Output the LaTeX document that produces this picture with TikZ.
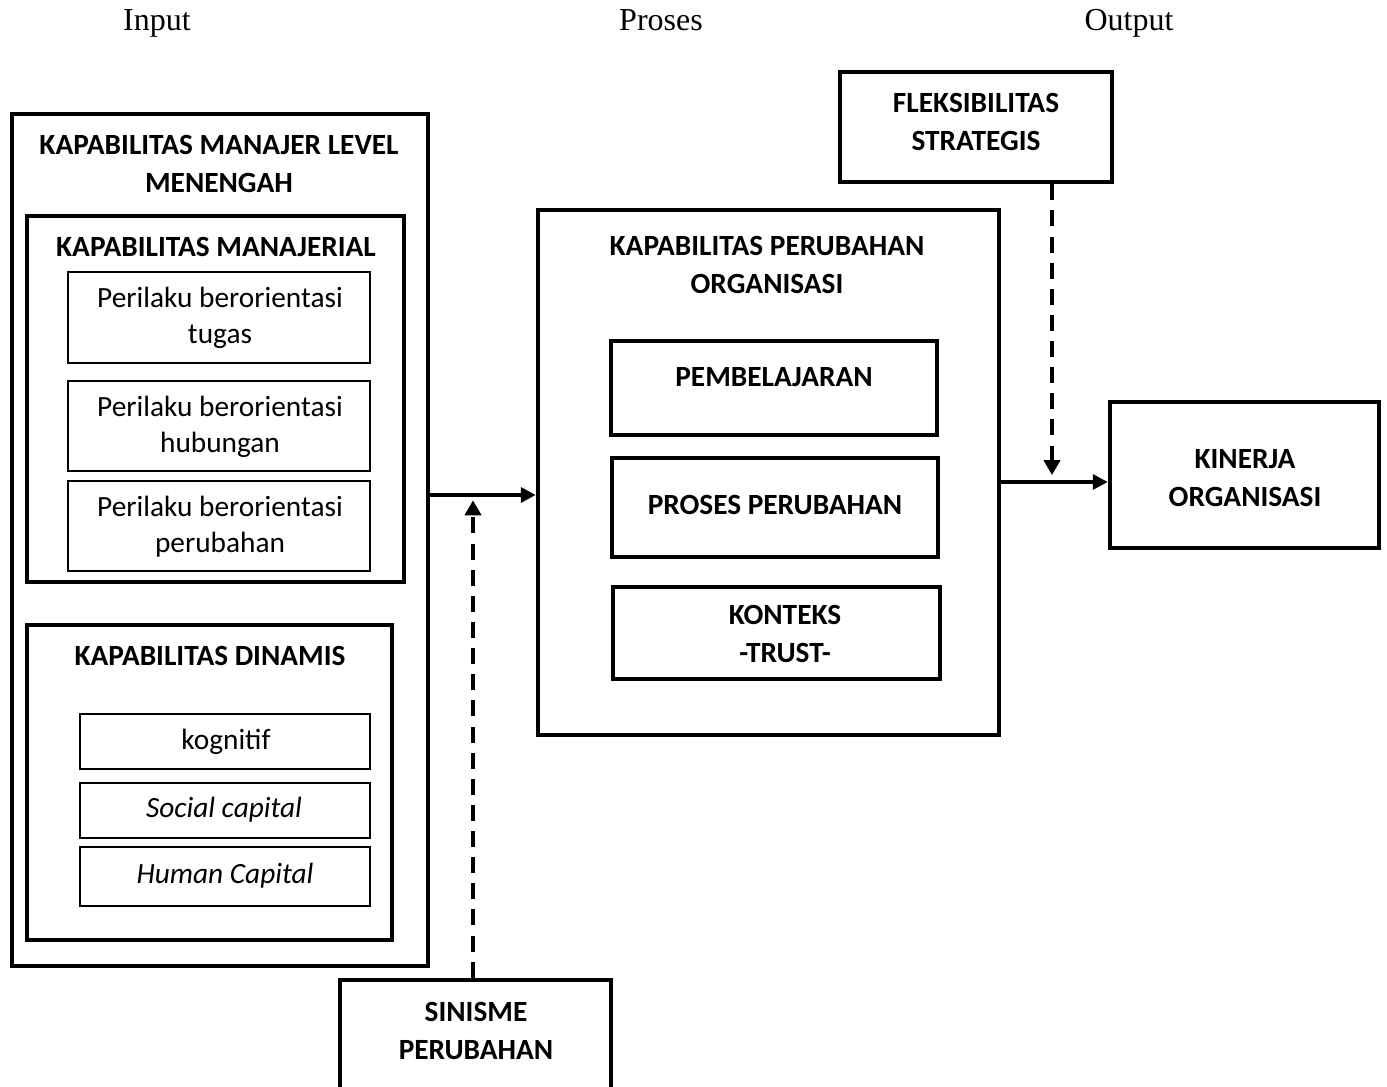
\documentclass[tikz,border=0pt]{standalone}
\usepackage{fontspec}
\setmainfont{Carlito}
\newfontfamily\tnr{Liberation Serif}
\usetikzlibrary{arrows.meta,fit}
\begin{document}
\begin{tikzpicture}[x=0.375pt,y=-0.375pt,
 thickbox/.style={draw,line width=1.7pt,inner sep=0pt},
 thinbox/.style={draw,line width=0.9pt,inner sep=0pt},
 midbox/.style={draw,line width=1.4pt,inner sep=0pt},
 btxt/.style={font=\fontsize{11}{14.5}\selectfont\bfseries,align=center,inner sep=0pt},
 rtxt/.style={font=\fontsize{11}{13.5}\selectfont,align=center,inner sep=0pt},
 itxt/.style={font=\fontsize{11}{13.5}\selectfont\itshape,align=center,inner sep=0pt},
 head/.style={font=\tnr\fontsize{12}{14}\selectfont,inner sep=0pt,anchor=base},
 arr/.style={line width=1.3pt,-{Triangle[length=5.6pt,width=5.6pt]}},
 darr/.style={line width=1.5pt,dash pattern=on 6pt off 3.8pt,-{Triangle[length=5.6pt,width=6pt]}},
]
\useasboundingbox (0,0) rectangle (1387,1087);
\clip (0,0) rectangle (1387,1087);

\node[head] (tin) at (157,31) {Input};
\node[head] (tpr) at (661,31) {Proses};
\node[head] (tout) at (1129,31) {Output};

% left block
\node[thickbox, fit={(12,114) (428,966)}] (outer) {};
\node[btxt] (outert) at (219,164) {KAPABILITAS MANAJER LEVEL\\MENENGAH};
\node[thickbox, fit={(27,216) (404,582)}] (manj) {};
\node[btxt] (manjt) at (216,247) {KAPABILITAS MANAJERIAL};
\node[thinbox, fit={(68,272) (370,363)}] (p1) {};
\node[rtxt] (p1t) at (220,318) {Perilaku berorientasi\\tugas};
\node[thinbox, fit={(68,381) (370,471)}] (p2) {};
\node[rtxt] (p2t) at (220,427) {Perilaku berorientasi\\hubungan};
\node[thinbox, fit={(68,481) (370,571)}] (p3) {};
\node[rtxt] (p3t) at (220,527) {Perilaku berorientasi\\perubahan};

\node[thickbox, fit={(27,625) (392,940)}] (din) {};
\node[btxt] (dint) at (210,656) {KAPABILITAS DINAMIS};
\node[thinbox, fit={(80,714) (370,769)}] (d1) {};
\node[rtxt] (d1t) at (226,742) {kognitif};
\node[thinbox, fit={(80,783) (370,838)}] (d2) {};
\node[itxt] (d2t) at (224,810) {Social capital};
\node[thinbox, fit={(80,847) (370,906)}] (d3) {};
\node[itxt] (d3t) at (225,876) {Human Capital};

% middle block
\node[thickbox, fit={(538,210) (999,735)}] (mid) {};
\node[btxt] (midt) at (767,265) {KAPABILITAS PERUBAHAN\\ORGANISASI};
\node[midbox, fit={(611,341) (937,435)}] (pem) {};
\node[btxt] (pemt) at (774,377) {PEMBELAJARAN};
\node[midbox, fit={(612,458) (938,557)}] (pro) {};
\node[btxt] (prot) at (775,505) {PROSES PERUBAHAN};
\node[midbox, fit={(613,587) (940,679)}] (kon) {};
\node[btxt] (kont) at (785,634) {KONTEKS\\-TRUST-};

% right blocks
\node[thickbox, fit={(840,72) (1112,182)}] (flek) {};
\node[btxt] (flekt) at (976,122) {FLEKSIBILITAS\\STRATEGIS};
\node[thickbox, fit={(1110,402) (1379,548)}] (kin) {};
\node[btxt] (kint) at (1245,478) {KINERJA\\ORGANISASI};

% bottom block
\node[thickbox, fit={(340,980) (611,1100)}] (sin) {};
\node[btxt] (sint) at (476,1031) {SINISME\\PERUBAHAN};

% connectors
\coordinate (jl) at (473,495);
\coordinate (jr) at (1052,482);
\draw[arr] (jl -| outer.east) -- (jl -| mid.west);
\draw[darr] (jl |- sin.north) -- (jl) [shorten >=2pt];
\draw[arr] (jr -| mid.east) -- (jr -| kin.west);
\draw[darr] (jr |- flek.south) -- (jr) [shorten >=2.6pt];
\end{tikzpicture}
\end{document}
